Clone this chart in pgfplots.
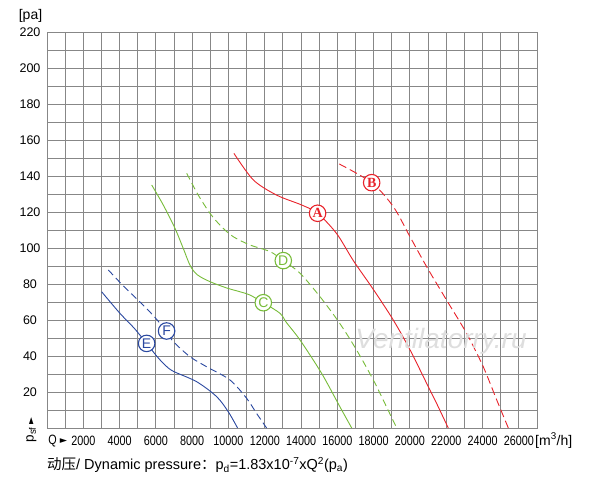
\documentclass[border=0pt]{standalone}
\usepackage{fontspec}
\setmainfont{Liberation Sans}
\newfontfamily\condfont[FakeStretch=0.8]{Liberation Sans}
\newfontfamily\cjk{Noto Sans CJK SC}
\newfontfamily\serifb{Liberation Serif}
\newfontfamily\symfont{DejaVu Sans}
\usepackage{pgfplots}
\pgfplotsset{compat=1.18}
\definecolor{cred}{RGB}{232,34,42}
\definecolor{cgreen}{RGB}{120,188,58}
\definecolor{cblue}{RGB}{42,72,160}
\definecolor{cgrid}{RGB}{135,135,135}
\begin{document}
\begin{tikzpicture}[x=1pt,y=1pt]
\useasboundingbox (0,0) rectangle (600,485);
\begin{axis}[
  at={(47pt,57pt)}, anchor=south west,
  scale only axis, width=490pt, height=396pt,
  xmin=0, xmax=27000, ymin=0, ymax=220,
  scaled x ticks=false, scaled y ticks=false,
  xtick={2000,4000,...,26000},
  xticklabels={2000,4000,6000,8000,10000,12000,14000,16000,18000,20000,22000,24000,26000},
  minor xtick={0,1000,...,27000},
  ytick={20,40,...,220},
  yticklabels={20,40,60,80,100,120,140,160,180,200,220},
  minor ytick={0,10,...,220},
  grid=both,
  major grid style={draw=cgrid, line width=0.95pt},
  minor grid style={draw=cgrid, line width=0.95pt},
  axis line style={draw=cgrid, line width=0.95pt},
  tick style={draw=none},
  xticklabel style={font=\condfont\fontsize{13.5}{14}\selectfont, anchor=center, yshift=-12.7pt},
  yticklabel style={font=\fontsize{12.5}{13}\selectfont, anchor=center, xshift=-17pt},
  clip=true,
]
% E blue solid
\addplot[cblue, line width=0.9pt, smooth, tension=0.5] coordinates {
(3010,75.7) (4020,63.7) (4800,55.5) (5490,47) (6040,40) (6500,35) (6960,31.5) (8250,25.7) (9350,17.4) (9990,9) (10500,0)};
% F blue dashed
\addplot[cblue, line width=0.9pt, smooth, tension=0.5, dash pattern=on 7pt off 4pt] coordinates {
(3380,87.8) (4200,79) (5120,70) (5900,62) (6590,53.5) (6960,48) (7880,39.6) (8800,34) (10080,26.7) (11000,16.5) (11550,8.1) (12100,0)};
% C green solid
\addplot[cgreen, line width=0.9pt, smooth, tension=0.5] coordinates {
(5770,135) (6400,124) (7050,111) (7500,100) (7900,90) (8300,85) (8980,81.3) (9900,77.8) (10630,75.7) (11180,73.9) (11920,69.6) (12840,63.7) (13200,58.5) (13940,48.9) (15130,30.4) (16140,11.8) (16790,0)};
% D green dashed
\addplot[cgreen, line width=0.9pt, smooth, tension=0.5, dash pattern=on 7pt off 4pt] coordinates {
(7700,141.5) (8300,130) (8980,119.3) (9600,112) (10260,106.3) (11180,101.7) (12290,98) (13020,93) (13940,86) (15040,73) (16140,58) (17060,43.3) (17980,26.7) (18600,14) (19270,0)};
% A red solid
\addplot[cred, line width=0.9pt, smooth, tension=0.5] coordinates {
(10300,152.6) (11370,137.8) (12650,129.4) (14030,123.9) (14910,119.3) (15960,108) (16880,93) (17980,77) (19080,60) (20000,43.5) (20920,24.8) (21500,13) (22110,0)};
% B red dashed
\addplot[cred, line width=0.9pt, smooth, tension=0.5, dash pattern=on 8pt off 4pt] coordinates {
(16100,146.7) (17890,136.3) (19080,123) (20000,106.3) (20920,89.6) (22020,71) (23120,52.6) (24040,34) (24780,15.6) (25420,0)};
% curve labels
\tikzset{lab/.style={circle, draw=#1, text=#1, fill=white, line width=1.1pt, inner sep=0pt, minimum size=16.5pt}}
\node[lab=cred, font=\serifb\bfseries\fontsize{14}{14}\selectfont] at (axis cs:14910,119.3) {A};
\node[lab=cred, font=\serifb\bfseries\fontsize{14}{14}\selectfont] at (axis cs:17890,136.3) {B};
\node[lab=cgreen, font=\fontsize{14}{14}\selectfont] at (axis cs:11920,69.6) {C};
\node[lab=cgreen, font=\fontsize{14}{14}\selectfont] at (axis cs:13020,93) {D};
\node[lab=cblue, font=\fontsize{14}{14}\selectfont] at (axis cs:5490,47) {E};
\node[lab=cblue, font=\fontsize{14}{14}\selectfont] at (axis cs:6590,53.9) {F};
\end{axis}
% watermark
\node[text=black!13, font=\itshape\fontsize{28}{28}\selectfont] at (441,144) {Ventilatorry.ru};
% texts
\node[font=\fontsize{14}{14}\selectfont, inner sep=0pt] at (30.5,469) {[pa]};
\node[font=\fontsize{13.5}{14}\selectfont, inner sep=0pt, rotate=90] at (31.5,55) {p\textsubscript{sf}\,{\symfont\fontsize{9}{9}\selectfont ►}};
\node[font=\condfont\fontsize{13.5}{14}\selectfont, inner sep=0pt] at (52.5,44.3) {Q};
\node[font=\symfont\fontsize{9.5}{9.5}\selectfont, inner sep=0pt] at (63.5,44.3) {►};
\node[font=\fontsize{14}{14}\selectfont, inner sep=0pt, anchor=west] at (535,44.5) {[m\textsuperscript{3}/h]};
\node[font=\fontsize{14.5}{15}\selectfont, inner sep=0pt, anchor=west] at (47,20) {{\cjk 动压}/ Dynamic pressure{\cjk ：}p\textsubscript{d}=1.83x10\textsuperscript{-7}xQ\textsuperscript{2}(p\textsubscript{a})};
\end{tikzpicture}
\end{document}
